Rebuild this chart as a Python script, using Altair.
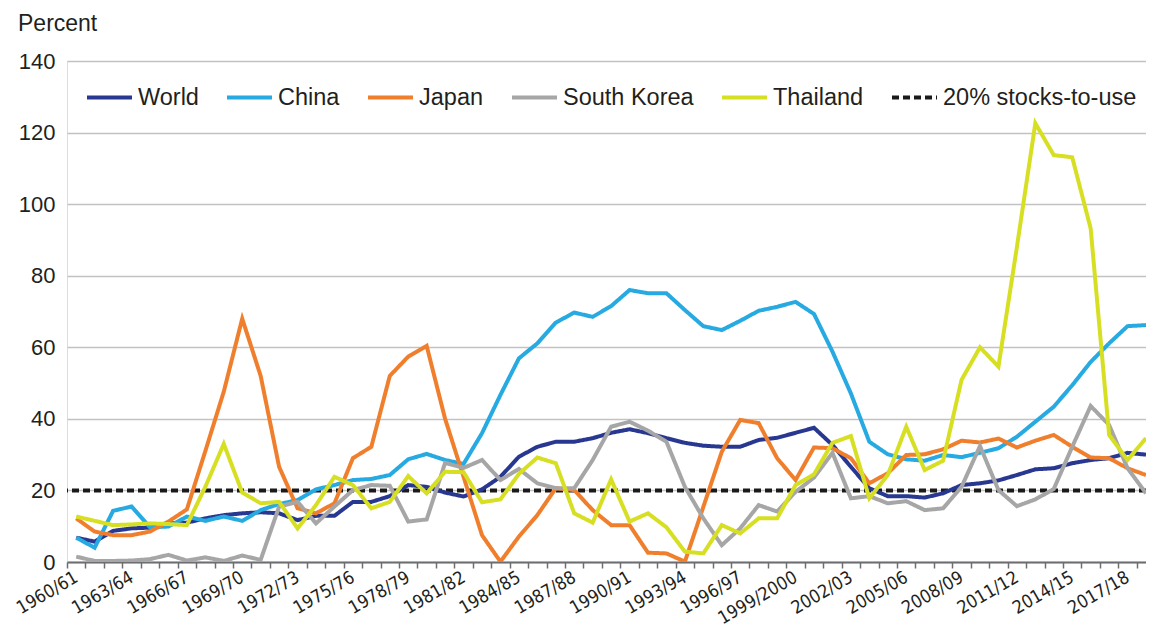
import json
import altair as alt
import pandas as pd

SEASONS = [
    "1960/61", "1961/62", "1962/63", "1963/64", "1964/65", "1965/66", "1966/67", "1967/68", "1968/69", "1969/70",
    "1970/71", "1971/72", "1972/73", "1973/74", "1974/75", "1975/76", "1976/77", "1977/78", "1978/79", "1979/80",
    "1980/81", "1981/82", "1982/83", "1983/84", "1984/85", "1985/86", "1986/87", "1987/88", "1988/89", "1989/90",
    "1990/91", "1991/92", "1992/93", "1993/94", "1994/95", "1995/96", "1996/97", "1997/98", "1998/99", "1999/2000",
    "2000/01", "2001/02", "2002/03", "2003/04", "2004/05", "2005/06", "2006/07", "2007/08", "2008/09", "2009/10",
    "2010/11", "2011/12", "2012/13", "2013/14", "2014/15", "2015/16", "2016/17", "2017/18", "2018/19",
]

WORLD = [6.8, 5.7, 8.7, 9.4, 9.6, 10.8, 11.0, 12.2, 13.1, 13.6,
         13.9, 13.6, 11.7, 12.9, 12.9, 16.8, 16.8, 18.4, 21.5, 21.0,
         19.4, 18.3, 20.3, 23.8, 29.4, 32.2, 33.6, 33.6, 34.6, 36.1,
         37.1, 36.0, 34.6, 33.3, 32.5, 32.2, 32.2, 34.1, 34.7, 36.1,
         37.5, 32.7, 26.6, 20.6, 18.4, 18.4, 18.0, 19.2, 21.5, 22.0,
         22.8, 24.3, 25.9, 26.2, 27.6, 28.5, 29.0, 30.5, 30.0]

CHINA = [6.8, 4.0, 14.3, 15.5, 9.7, 9.9, 12.7, 11.5, 12.7, 11.5,
         14.5, 16.2, 17.3, 20.3, 21.5, 22.9, 23.2, 24.3, 28.7, 30.2,
         28.5, 27.4, 36.0, 46.7, 56.9, 61.1, 66.9, 69.7, 68.5, 71.5,
         76.0, 75.1, 75.1, 70.4, 65.9, 64.8, 67.4, 70.2, 71.3, 72.7,
         69.3, 58.8, 47.1, 33.6, 30.1, 28.7, 28.3, 29.9, 29.3, 30.5,
         31.8, 35.0, 39.2, 43.4, 49.4, 55.9, 61.1, 65.9, 66.2]

JAPAN = [12.2, 8.5, 7.5, 7.5, 8.5, 11.3, 14.7, 31.0, 47.6, 68.0,
         52.0, 26.6, 15.0, 13.6, 16.4, 29.0, 32.2, 52.0, 57.4, 60.4,
         40.0, 23.8, 7.5, 0.1, 7.1, 13.1, 20.6, 20.1, 14.5, 10.3,
         10.3, 2.6, 2.4, 0.1, 15.4, 30.8, 39.7, 38.8, 29.0, 22.9,
         32.0, 31.8, 29.0, 22.0, 24.8, 29.9, 30.1, 31.5, 33.9, 33.4,
         34.5, 32.0, 33.9, 35.5, 32.2, 29.2, 29.0, 26.2, 24.3]

SOUTH_KOREA = [1.5, 0.3, 0.3, 0.4, 0.8, 2.0, 0.4, 1.3, 0.3, 1.8,
               0.6, 15.5, 16.8, 10.8, 15.5, 20.1, 21.5, 21.3, 11.3, 11.9,
               27.7, 26.3, 28.5, 22.9, 26.0, 22.0, 20.6, 20.6, 28.5, 37.8,
               39.2, 36.7, 33.6, 21.0, 12.2, 4.7, 9.4, 15.9, 14.1, 19.6,
               23.6, 30.5, 17.8, 18.4, 16.4, 17.0, 14.5, 15.0, 21.0, 32.4,
               20.1, 15.6, 17.5, 20.4, 32.2, 43.6, 38.3, 26.2, 19.2]

THAILAND = [12.7, 11.5, 10.3, 10.5, 10.8, 10.6, 10.3, 21.0, 33.0, 19.4,
            16.4, 16.8, 9.4, 15.9, 23.8, 21.5, 15.0, 16.8, 24.0, 19.2,
            25.2, 25.1, 16.7, 17.5, 24.6, 29.2, 27.6, 13.6, 11.0, 23.1,
            11.3, 13.6, 9.7, 2.9, 2.4, 10.3, 8.0, 12.2, 12.2, 21.5,
            24.5, 33.3, 35.2, 17.8, 24.3, 37.8, 25.7, 28.3, 50.9, 60.0,
            54.6, 88.0, 122.6, 113.7, 113.1, 93.2, 35.5, 28.5, 34.6]

SERIES = ["World", "China", "Japan", "South Korea", "Thailand"]
SERIES_VALUES = [WORLD, CHINA, JAPAN, SOUTH_KOREA, THAILAND]
REF_NAME = "20% stocks-to-use"
REF_VALUE = 20
Y_TICKS = [0, 20, 40, 60, 80, 100, 120, 140]

rows = []
for name, vals in zip(SERIES, SERIES_VALUES):
    for i, v in enumerate(vals):
        rows.append({"idx": i, "season": SEASONS[i], "series": name, "value": v})
df = pd.DataFrame(rows)
ref_df = pd.DataFrame({"series": [REF_NAME], "value": [REF_VALUE]})

ALL_NAMES = SERIES + [REF_NAME]
COLORS = ["#283891", "#27aae1", "#f07f2d", "#a6a6a6", "#d7df23", "#1a1a1a"]
DASHES = [[1, 0]] * 5 + [[7, 4]]
WIDTHS = [4, 4, 4, 4, 4, 2.5]

PAD_L, PAD_T, PAD_B = 59, 53, 65
W, H = 1079, 501
STEP = W / 58.5
FONT = "Liberation Sans"
NARROW = "Liberation Sans Narrow, Arial Narrow, DejaVu Sans Condensed, Liberation Sans"
TEXT = "#231f20"

label_expr = "datum.value % 3 == 0 ? " + json.dumps(SEASONS) + "[datum.value] : ''"

legend = alt.Legend(
    orient="none", legendX=18, legendY=12, direction="horizontal", title=None,
    labelFontSize=23.5, labelFont=FONT, labelColor=TEXT, labelLimit=400, symbolType="stroke",
    symbolSize=2025, labelOffset=4, columnPadding=20,
)

x_enc = alt.X(
    "idx:Q",
    scale=alt.Scale(domain=[-0.5, 58], nice=False, zero=False),
    axis=alt.Axis(
        values=list(range(len(SEASONS))), labelExpr=label_expr, title=None, grid=False,
        tickOffset=-STEP / 2, labelOffset=STEP / 2, labelAngle=-30, labelAlign="right",
        labelBaseline="middle", labelFontSize=18, labelFont=NARROW, labelColor=TEXT,
        labelOverlap=False, labelFlush=False, labelPadding=8, labelBound=False,
        domainColor="#6d6e71", domainWidth=2, tickColor="#6d6e71", tickWidth=1.5, tickSize=6,
    ),
)
y_enc = alt.Y(
    "value:Q",
    scale=alt.Scale(domain=[0, 140], nice=False, zero=True),
    axis=alt.Axis(
        values=Y_TICKS, title=None, domain=False, ticks=False, labelFontSize=22,
        labelFont=FONT, labelColor=TEXT, labelPadding=12, gridColor="#c2c2c2", gridWidth=1.5,
    ),
)

color_scale = alt.Scale(domain=ALL_NAMES, range=COLORS)
dash_scale = alt.Scale(domain=ALL_NAMES, range=DASHES)
width_scale = alt.Scale(domain=ALL_NAMES, range=WIDTHS)

lines = alt.Chart(df).mark_line(clip=True).encode(
    x=x_enc,
    y=y_enc,
    color=alt.Color("series:N", scale=color_scale, legend=legend),
    strokeDash=alt.StrokeDash("series:N", scale=dash_scale, legend=legend),
    strokeWidth=alt.StrokeWidth("series:N", scale=width_scale, legend=legend),
    detail="series:N",
)

rule = alt.Chart(ref_df).mark_rule().encode(
    y=alt.Y("value:Q"),
    color=alt.Color("series:N", scale=color_scale, legend=legend),
    strokeDash=alt.StrokeDash("series:N", scale=dash_scale, legend=legend),
    strokeWidth=alt.StrokeWidth("series:N", scale=width_scale, legend=legend),
)

chart = alt.layer(rule, lines).properties(
    width=W, height=H,
    title=alt.TitleParams("Percent", anchor="start", frame="group", fontSize=23, dx=-49,
                          fontWeight="normal", font=FONT, color=TEXT, offset=14),
    autosize=alt.AutoSizeParams(type="none"),
    padding={"left": PAD_L, "top": PAD_T, "right": 0, "bottom": PAD_B},
).configure_view(stroke=None).configure(font=FONT)

chart.save("out.html", embed_options={"renderer": "svg", "actions": False})
